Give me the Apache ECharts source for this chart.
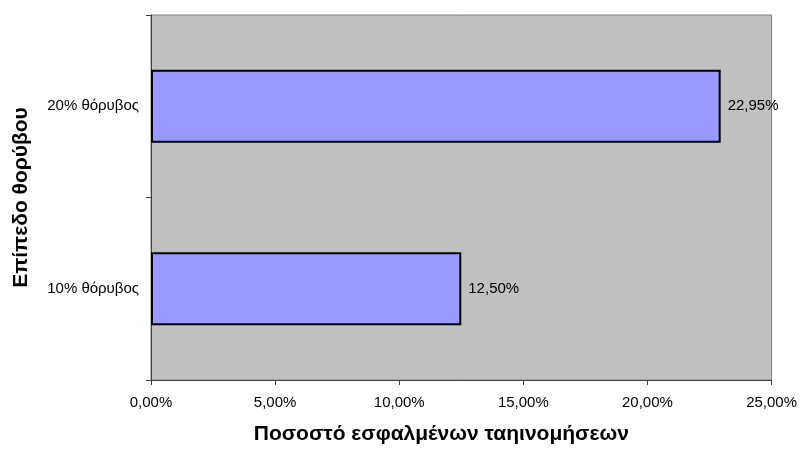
<!DOCTYPE html>
<html>
<head>
<meta charset="utf-8">
<script src="https://cdn.jsdelivr.net/npm/echarts@6/dist/echarts.min.js"></script>
<style>
  html, body { margin: 0; padding: 0; background: #fff; }
  #chart { width: 800px; height: 450px; }
</style>
</head>
<body>
<div id="chart"></div>
<script>
// Noise levels (bottom to top) and misclassification rates in percent
const categories = ['10% θόρυβος', '20% θόρυβος'];
const errorRates = [12.50, 22.95];
const xAxisTitle = 'Ποσοστό εσφαλμένων ταηινομήσεων';
const yAxisTitle = 'Επίπεδο θορύβου';

const FONT = '"Liberation Sans", Arial, sans-serif';
const fmtPct = v => v.toFixed(2).replace('.', ',') + '%';

const chart = echarts.init(document.getElementById('chart'), null, { renderer: 'canvas' });
chart.setOption({
  animation: false,
  backgroundColor: '#ffffff',
  textStyle: { fontFamily: FONT },
  grid: {
    left: 151, right: 27, top: 15, bottom: 68,
    show: true,
    backgroundColor: '#c0c0c0',
    borderColor: '#808080',
    borderWidth: 1
  },
  xAxis: {
    type: 'value',
    min: 0, max: 25, interval: 5,
    name: xAxisTitle,
    nameLocation: 'middle',
    nameGap: 44,
    // title sits centred on the whole chart width rather than the plot
    nameTextStyle: { fontFamily: FONT, fontSize: 21, fontWeight: 'bold', color: '#000', padding: [0, 40, 0, 0] },
    axisLine: { show: true, lineStyle: { color: '#404040', width: 1 } },
    axisTick: { show: true, length: 5, lineStyle: { color: '#404040' } },
    axisLabel: { formatter: fmtPct, fontFamily: FONT, fontSize: 15, color: '#000', margin: 15 },
    splitLine: { show: false }
  },
  yAxis: {
    type: 'category',
    data: categories,
    name: yAxisTitle,
    nameLocation: 'middle',
    nameGap: 119,
    nameTextStyle: { fontFamily: FONT, fontSize: 21, fontWeight: 'bold', color: '#000' },
    axisLine: { show: true, lineStyle: { color: '#404040', width: 1 } },
    axisTick: { show: true, length: 5, lineStyle: { color: '#404040' } },
    axisLabel: { fontFamily: FONT, fontSize: 15, color: '#000', margin: 12 },
    splitLine: { show: false }
  },
  series: [{
    type: 'bar',
    data: errorRates,
    barCategoryGap: '60%',
    itemStyle: { color: '#9999ff', borderColor: '#000000', borderWidth: 2 },
    label: {
      show: true,
      position: 'right',
      distance: 7,
      formatter: p => fmtPct(p.value),
      fontFamily: FONT, fontSize: 15, color: '#000'
    }
  }]
});
</script>
</body>
</html>
